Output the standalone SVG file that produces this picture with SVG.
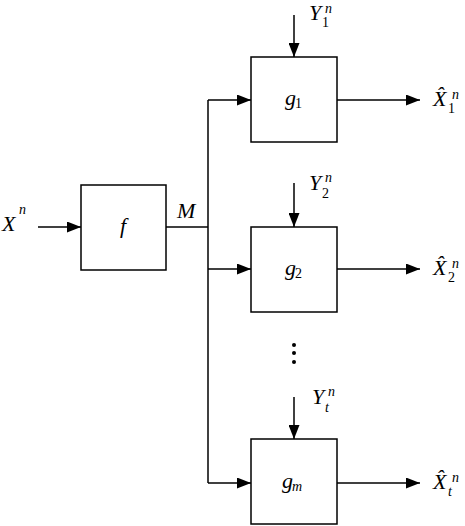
<svg xmlns="http://www.w3.org/2000/svg" width="465" height="526" viewBox="0 0 465 526">
<style>
.box{fill:#fff;stroke:#000;stroke-width:1.5}
.ln{fill:none;stroke:#000;stroke-width:1.5}
text{font-family:'Liberation Serif','DejaVu Serif',serif;font-style:italic;font-size:22px;fill:#000}
.s{font-size:14px;font-style:normal}
.si{font-size:14px}
</style>
<defs>
<marker id="ah" markerUnits="userSpaceOnUse" markerWidth="15" markerHeight="11" refX="14" refY="5.5" orient="auto">
<path d="M0,0 L14,5.5 L0,11 Z" fill="#000"/>
</marker>
</defs>
<rect width="465" height="526" fill="#fff"/>
<g id="connectors">
<path class="ln" d="M38,227 H81" marker-end="url(#ah)"/>
<path class="ln" d="M166,227 H208"/>
<path class="ln" d="M208,100 V483"/>
<path class="ln" d="M208,100 H251" marker-end="url(#ah)"/>
<path class="ln" d="M208,269 H251" marker-end="url(#ah)"/>
<path class="ln" d="M208,483 H251" marker-end="url(#ah)"/>
<path class="ln" d="M294,15 V57" marker-end="url(#ah)"/>
<path class="ln" d="M294,183 V227" marker-end="url(#ah)"/>
<path class="ln" d="M294,397 V439" marker-end="url(#ah)"/>
<path class="ln" d="M337,100 H420" marker-end="url(#ah)"/>
<path class="ln" d="M337,269 H420" marker-end="url(#ah)"/>
<path class="ln" d="M337,483 H420" marker-end="url(#ah)"/>
</g>
<g id="input"><text x="2" y="231">X<tspan class="si" x="19" y="214">n</tspan></text></g>
<g id="f"><rect class="box" x="81" y="185" width="85" height="85"/><text x="123" y="233" text-anchor="middle">f</text></g>
<g id="M"><text x="177" y="218">M</text></g>
<g id="g1"><rect class="box" x="251" y="57" width="86" height="85"/><text x="285" y="105">g<tspan class="s" x="295" y="108">1</tspan></text></g>
<g id="g2"><rect class="box" x="251" y="227" width="86" height="85"/><text x="285" y="275">g<tspan class="s" x="295" y="278">2</tspan></text></g>
<g id="gm"><rect class="box" x="251" y="439" width="86" height="85"/><text x="282" y="488">g<tspan class="si" x="292" y="491">m</tspan></text></g>
<g id="dots" fill="#000"><circle cx="294" cy="345" r="2"/><circle cx="294" cy="353" r="2"/><circle cx="294" cy="362" r="2"/></g>
<g id="Y1"><text x="309" y="20">Y<tspan class="s" x="322" y="27">1</tspan><tspan class="si" x="325" y="13">n</tspan></text></g>
<g id="Y2"><text x="309" y="190">Y<tspan class="s" x="322" y="198">2</tspan><tspan class="si" x="325" y="182">n</tspan></text></g>
<g id="Yt"><text x="312" y="404">Y<tspan class="si" x="325" y="412">t</tspan><tspan class="si" x="328" y="396">n</tspan></text></g>
<g id="X1"><text x="433" y="106">X̂<tspan class="s" x="448" y="113">1</tspan><tspan class="si" x="452" y="99">n</tspan></text></g>
<g id="X2"><text x="433" y="275">X̂<tspan class="s" x="448" y="282">2</tspan><tspan class="si" x="452" y="268">n</tspan></text></g>
<g id="Xt"><text x="433" y="489">X̂<tspan class="si" x="448" y="496">t</tspan><tspan class="si" x="452" y="482">n</tspan></text></g>
</svg>
